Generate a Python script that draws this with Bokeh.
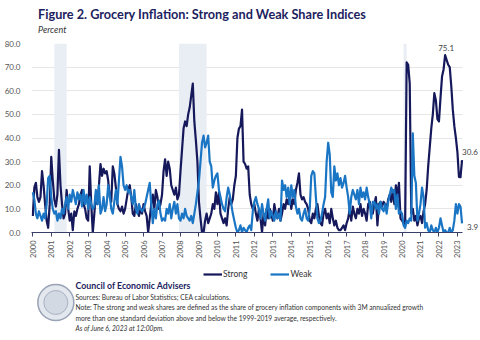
import numpy as np
from bokeh.plotting import figure
from bokeh.layouts import column
from bokeh.models import (Label, BoxAnnotation, Legend, LegendItem, FixedTicker,
                          ColumnDataSource, Range1d, NumeralTickFormatter)
from bokeh.core.properties import value
from bokeh.embed import file_html
from bokeh.resources import INLINE

# ---------------- data (monthly, Jan 2000 - Apr 2023) ----------------
strong = [
    7, 19, 21, 15, 13, 15, 26, 20, 12, 5, 2, 12,          # 2000
    32, 22, 14, 11, 16, 35, 20, 12, 6, 8, 18, 10,         # 2001
    5, 8, 1, 9, 7, 10, 12, 16, 18, 12, 10, 6,             # 2002
    5, 28, 12, 0, 8, 16, 12, 20, 29, 24, 27, 25,          # 2003
    26, 22, 15, 13, 28, 25, 19, 12, 10, 9, 11, 8,         # 2004
    10, 14, 18, 20, 15, 8, 7, 12, 9, 7, 10, 8,            # 2005
    12, 9, 7, 0, 6, 12, 16, 10, 18, 15, 10, 12,           # 2006
    16, 26, 31, 24, 30, 27, 20, 18, 16, 19, 14, 16,       # 2007
    26, 35, 44, 47, 45, 50, 53, 58, 63, 47, 39, 30,       # 2008
    13, 6, 0, 0, 5, 8, 4, 6, 8, 12, 10, 17,               # 2009
    12, 17, 8, 6, 4, 6, 3, 10, 15, 12, 14, 20,            # 2010
    24, 40, 44, 45, 52, 30, 29, 27, 28, 16, 12, 10,       # 2011
    12, 8, 5, 10, 6, 0, 8, 3, 10, 6, 10, 8,               # 2012
    5, 12, 8, 6, 10, 5, 8, 12, 10, 14, 12, 16,            # 2013
    10, 14, 12, 18, 21, 25, 16, 14, 15, 13, 12, 10,       # 2014
    5, 4, 8, 6, 10, 12, 7, 4, 3, 8, 10, 6,                # 2015
    8, 4, 10, 6, 3, 5, 2, 1, 1, 2, 3, 1,                  # 2016
    4, 6, 10, 5, 11, 8, 6, 10, 8, 12, 7, 10,              # 2017
    8, 5, 12, 13, 10, 8, 12, 15, 3, 12, 13, 11,           # 2018
    13, 12, 10, 14, 16, 13, 18, 12, 20, 15, 21, 6,        # 2019
    5, 4, 3, 72, 71, 63, 8, 10, 5, 7, 3, 6,               # 2020
    7, 4, 9, 12, 18, 28, 36, 44, 50, 59, 56, 48,          # 2021
    47, 57, 66, 69, 75.1, 73, 71, 70, 62, 52, 45, 40,     # 2022
    34, 23.5, 23.4, 30.6,                                 # 2023
]
weak = [
    17, 14, 8, 6, 9, 7, 5, 8, 6, 12, 23, 24,              # 2000
    15, 10, 8, 9, 5, 8, 6, 10, 8, 12, 15, 10,             # 2001
    16, 13, 18, 15, 12, 17, 14, 16, 11, 18, 12, 16,       # 2002
    10, 15, 12, 10, 11, 18, 12, 20, 8, 10, 15, 9,         # 2003
    12, 20, 16, 10, 8, 13, 18, 12, 22, 32, 28, 20,        # 2004
    18, 20, 17, 18, 15, 12, 18, 10, 8, 12, 10, 9,         # 2005
    10, 12, 15, 18, 21, 12, 4, 10, 6, 12, 13.5, 8,        # 2006
    5, 6, 5, 10, 8, 12, 6, 10, 13, 8, 12, 6,              # 2007
    5, 8, 6, 10, 7, 6, 5, 7, 4, 8, 12, 17,                # 2008
    22, 30, 38, 41, 36, 38, 41, 30, 28, 19, 22, 24,       # 2009
    25, 18, 15, 12, 10, 9, 15, 19, 16, 12, 8, 5,          # 2010
    2, 0, 1, 3, 0, 2, 1, 0, 2, 3, 1, 9,                   # 2011
    13, 15, 12, 10, 6, 12, 8, 5, 10, 14, 6, 9,            # 2012
    7, 5, 9, 6, 8, 5, 22, 18, 20, 15, 19, 12,             # 2013
    20, 15, 18, 11, 8, 10, 6, 5, 8, 10, 6, 5,             # 2014
    10, 24, 26, 25, 15, 6, 4, 5, 8, 12, 15, 30,           # 2015
    38, 33, 17, 15, 28, 22, 25, 20, 23, 19, 21, 24,       # 2016
    19, 15, 8, 15, 18, 16, 14, 18, 12, 19, 15, 17,        # 2017
    14, 19, 15, 12, 6, 13, 13, 10, 12, 8, 13, 10,         # 2018
    9, 12, 8, 13, 16, 19, 17, 18, 10, 16, 8, 9,           # 2019
    8, 3, 2, 5, 4, 6, 5, 42, 24, 21, 5, 8,                # 2020
    12, 19, 15, 2, 4, 1, 0, 3, 1, 0, 2, 0,                # 2021
    2, 6, 3, 0, 1, 0, 0, 2, 0, 1, 5, 12,                  # 2022
    8, 12, 11, 3.9,                                       # 2023
]
start_year = 2000
tick_years = list(range(2000, 2024))
y_ticks = [0, 10, 20, 30, 40, 50, 60, 70, 80]
recessions = [(2001 + 2/12, 2001 + 10/12), (2007 + 11/12, 2009 + 5/12), (2020 + 1/12, 2020 + 3/12)]

dates = [start_year + i / 12 for i in range(len(strong))]

STRONG_C = "#15185A"
WEAK_C = "#1A75C4"
NAVY = "#1C2260"
TXT = "#333333"
FONT = "Lato"

src = ColumnDataSource(dict(x=dates, strong=strong, weak=weak))

# ---------------- header ----------------
head = figure(width=480, height=37, output_backend="svg", toolbar_location=None,
              x_range=Range1d(0, 480), y_range=Range1d(37, 0),
              x_axis_type=None, y_axis_type=None, min_border=0)
head.outline_line_color = None
head.grid.visible = False
head.text(x=[7], y=[13], text=["Figure 2. Grocery Inflation: Strong and Weak Share Indices"],
          text_font=value(FONT), text_font_size="12.7px", text_font_style="bold",
          text_color=NAVY, text_baseline="middle", text_align="left")
head.text(x=[7], y=[29], text=["Percent"], text_font=value(FONT), text_font_size="9px",
          text_font_style="italic", text_color=TXT, text_baseline="middle", text_align="left")

# ---------------- main chart ----------------
X0, X1 = 1999.93, 2024.25
p = figure(width=480, height=228, output_backend="svg", toolbar_location=None,
           x_range=Range1d(X0, X1), y_range=Range1d(0, 80),
           min_border_left=31, min_border_right=0, min_border_top=6, min_border_bottom=33)
p.outline_line_color = None

for l, r in recessions:
    p.add_layout(BoxAnnotation(left=l, right=r, fill_color="#E9EDF4", fill_alpha=1.0,
                               line_color=None, level="underlay"))

p.xgrid.grid_line_color = None
p.ygrid.grid_line_color = "#E6E6E6"
p.ygrid.grid_line_width = 1
try:
    p.ygrid.cross_bounds = (X0, dates[-1] + 0.05)
except Exception:
    pass

p.yaxis.ticker = FixedTicker(ticks=y_ticks)
p.yaxis.formatter = NumeralTickFormatter(format="0.0")
p.yaxis.axis_line_color = None
p.yaxis.major_tick_line_color = None
p.yaxis.minor_tick_line_color = None
p.yaxis.major_label_text_font = FONT
p.yaxis.major_label_text_font_size = "8px"
p.yaxis.major_label_text_color = "#555555"
p.yaxis.major_label_standoff = 5

p.xaxis.ticker = FixedTicker(ticks=tick_years)
p.xaxis.bounds = (X0, dates[-1] + 0.02)
p.xaxis.major_label_orientation = np.pi / 2
p.xaxis.axis_line_color = "#3A3F6A"
p.xaxis.major_tick_line_color = "#3A3F6A"
p.xaxis.major_tick_in = 0
p.xaxis.major_tick_out = 4
p.xaxis.minor_tick_line_color = None
p.xaxis.major_label_text_font = FONT
p.xaxis.major_label_text_font_size = "7.5px"
p.xaxis.major_label_text_color = "#555555"
p.xaxis.major_label_standoff = 4

p.line("x", "strong", source=src, line_color=STRONG_C, line_width=2.2, line_join="round")
p.line("x", "weak", source=src, line_color=WEAK_C, line_width=2.2, line_join="round")

imax = int(np.argmax(strong))
lab_kw = dict(text_font=FONT, text_font_size="8px", text_color="#444444")
p.add_layout(Label(x=dates[imax], y=strong[imax], text=f"{strong[imax]:.1f}", text_align="center",
                   text_baseline="bottom", y_offset=4, x_offset=1, **lab_kw))
p.add_layout(Label(x=dates[-1], y=strong[-1], text=f"{strong[-1]:.1f}", text_align="left",
                   text_baseline="bottom", x_offset=0, y_offset=5, **lab_kw))
p.add_layout(Label(x=dates[-1], y=weak[-1], text=f"{weak[-1]:.1f}", text_align="left",
                   text_baseline="middle", x_offset=5, y_offset=-4, **lab_kw))

# ---------------- footer ----------------
foot = figure(width=480, height=75, output_backend="svg", toolbar_location=None,
              x_range=Range1d(0, 480), y_range=Range1d(75, 0),
              x_axis_type=None, y_axis_type=None, min_border=0)
foot.outline_line_color = None
foot.grid.visible = False

# legend keys: the same series, hidden here (only their legend samples show)
k_strong = foot.line("x", "strong", source=src, line_color=STRONG_C, line_width=2.2, visible=False)
k_weak = foot.line("x", "weak", source=src, line_color=WEAK_C, line_width=2.2, visible=False)
legend = Legend(items=[LegendItem(label="Strong", renderers=[k_strong]),
                       LegendItem(label="Weak", renderers=[k_weak])],
                orientation="horizontal", location=(172, 60),
                label_text_font=FONT, label_text_font_size="8.5px", label_text_color=TXT,
                glyph_width=19, glyph_height=12, label_height=12, spacing=23, padding=0, margin=0,
                label_standoff=1, border_line_color=None, background_fill_alpha=0)
foot.add_layout(legend, "center")

# seal
foot.scatter(x=[26], y=[37], size=36, marker="circle", fill_color="#E3E7EE",
             line_color="#9AA3B6", line_width=1.5)
foot.scatter(x=[26], y=[37], size=24, marker="circle", fill_color="#D3D9E3",
             line_color="#A9B1C2", line_width=1)

def ftext(y, text, size, style="normal", color=TXT):
    foot.text(x=[47], y=[y], text=[text], text_font=value(FONT), text_font_size=size,
              text_font_style=style, text_color=color, text_baseline="middle", text_align="left")

ftext(20, "Council of Economic Advisers", "8.8px", "bold", NAVY)
ftext(31, "Sources: Bureau of Labor Statistics; CEA calculations.", "6.7px")
ftext(41, "Note: The strong and weak shares are defined as the share of grocery inflation components with 3M annualized growth", "6.7px")
ftext(52, "more than one standard deviation above and below the 1999-2019 average, respectively.", "6.7px")
ftext(62, "As of June 6, 2023 at 12:00pm.", "6.7px", "italic")

layout = column(head, p, foot, spacing=0)
open("out.html", "w").write(file_html(layout, INLINE))
